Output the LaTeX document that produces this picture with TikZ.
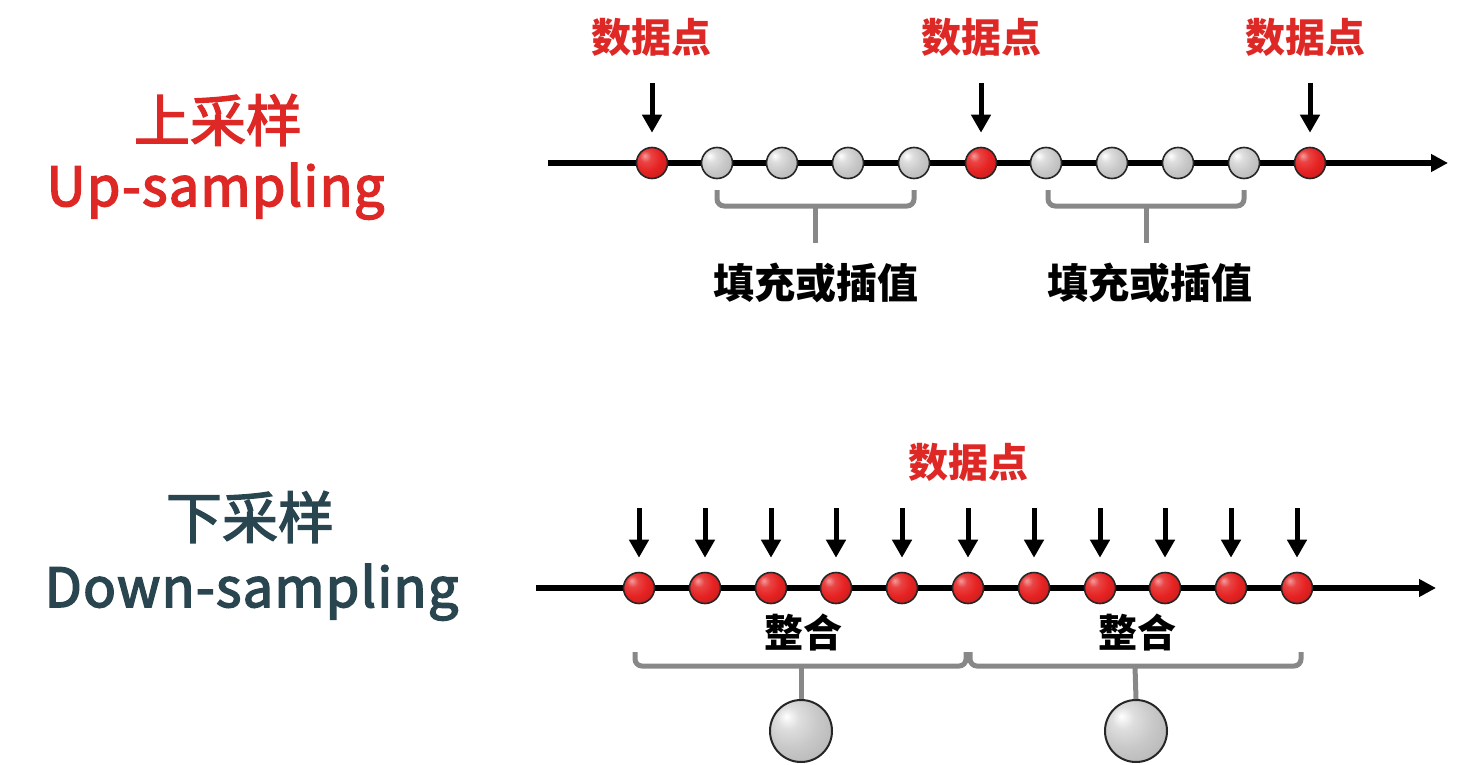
\documentclass[tikz,border=0pt]{standalone}
\usepackage{fontspec}
\setmainfont{Noto Sans CJK SC}
\newfontfamily\titlecnfont{Noto Sans CJK SC}[FakeBold=2.5]
\newfontfamily\titleenfont{Noto Sans CJK SC}[FakeBold=3, LetterSpace=2.5]
\usetikzlibrary{arrows.meta}
\definecolor{upred}{RGB}{221,40,38}
\definecolor{dslate}{RGB}{41,69,79}
\definecolor{brk}{RGB}{136,136,136}
\definecolor{ballred}{RGB}{230,34,34}
\definecolor{ballgray}{RGB}{200,200,200}
\pgfdeclareradialshading{redsphere}{\pgfqpoint{-12bp}{12bp}}{%
  color(0bp)=(white!55!ballred); color(9bp)=(ballred!85!white);
  color(22bp)=(ballred); color(42bp)=(ballred!80!black);
  color(58bp)=(ballred!45!black); color(70bp)=(ballred!45!black)}
\pgfdeclareradialshading{graysphere}{\pgfqpoint{-12bp}{12bp}}{%
  color(0bp)=(white); color(9bp)=(ballgray!60!white);
  color(22bp)=(ballgray); color(42bp)=(ballgray!88!black);
  color(58bp)=(ballgray!55!black); color(70bp)=(ballgray!55!black)}
\tikzset{
  redball/.style={circle, draw=black!85, line width=1.6pt, minimum size=31pt, inner sep=0pt, shading=redsphere},
  grayball/.style={circle, draw=black!85, line width=1.6pt, minimum size=31pt, inner sep=0pt, shading=graysphere},
  bigball/.style={circle, draw=black!85, line width=2pt, minimum size=62pt, inner sep=0pt, shading=graysphere},
  axisline/.style={line width=5.5pt, -{Triangle[length=17pt,width=17pt]}},
  pointer/.style={line width=5pt, -{Triangle[length=18pt,width=19pt]}, shorten >=14pt},
  bracketline/.style={draw=brk, line width=5pt, rounded corners=7pt},
  stemline/.style={draw=brk, line width=5pt},
  datalabel/.style={text=upred, font=\bfseries\fontsize{40}{42}\selectfont, inner sep=0pt},
  blacklabel/.style={text=black, font=\bfseries\fontsize{41}{43}\selectfont, inner sep=0pt},
  mergelabel/.style={text=black, font=\bfseries\fontsize{39}{41}\selectfont, inner sep=0pt},
  titlecn/.style={font=\titlecnfont\fontsize{56}{58}\selectfont, inner sep=0pt},
  titleen/.style={font=\titleenfont\fontsize{54}{58}\selectfont, inner sep=0pt, anchor=base}
}
\begin{document}
\begin{tikzpicture}[x=1pt,y=-1pt]
\useasboundingbox (0,0) rectangle (1467,765);

% ---------- titles ----------
\node[titlecn, text=upred] (upcn) at (218,120) {上采样};
\node[titleen, text=upred] (upen) at (215.5,206) {Up-sampling};
\node[titlecn, text=dslate] (dncn) at (250,517) {下采样};
\node[titleen, text=dslate] (dnen) at (251.5,607) {Down-sampling};

% ---------- up-sampling ----------
\coordinate (ua0) at (548,163);
\coordinate (ua1) at (1448,163);
\draw[axisline] (ua0) -- (ua1);

\node[redball]  (u1)  at (652,163) {};
\node[grayball] (u2)  at (717,163) {};
\node[grayball] (u3)  at (782,163) {};
\node[grayball] (u4)  at (848,163) {};
\node[grayball] (u5)  at (914,163) {};
\node[redball]  (u6)  at (981,163) {};
\node[grayball] (u7)  at (1046,163) {};
\node[grayball] (u8)  at (1112,163) {};
\node[grayball] (u9)  at (1178,163) {};
\node[grayball] (u10) at (1244,163) {};
\node[redball]  (u11) at (1310,163) {};

\node[datalabel] (dl1) at (651.5,37) {数据点};
\node[datalabel] (dl2) at (981,37) {数据点};
\node[datalabel] (dl3) at (1305,37) {数据点};

\coordinate (pa1) at (652,83);
\coordinate (pa2) at (981,83);
\coordinate (pa3) at (1310,83);
\draw[pointer] (pa1) -- (u1.north);
\draw[pointer] (pa2) -- (u6.north);
\draw[pointer] (pa3) -- (u11.north);

% brackets
\coordinate (b1l) at (717,190);
\coordinate (b1m) at (815,206);
\coordinate (b1r) at (914,190);
\coordinate (b1s) at (815,243);
\draw[bracketline] (b1l) |- (b1m) -| (b1r);
\draw[stemline] (b1m) -- (b1s);
\coordinate (b2l) at (1048,190);
\coordinate (b2m) at (1146,206);
\coordinate (b2r) at (1244,190);
\coordinate (b2s) at (1146,243);
\draw[bracketline] (b2l) |- (b2m) -| (b2r);
\draw[stemline] (b2m) -- (b2s);

\node[blacklabel] (fill1) at (815.5,283) {填充或插值};
\node[blacklabel] (fill2) at (1150,283) {填充或插值};

% ---------- down-sampling ----------
\coordinate (da0) at (536,588);
\coordinate (da1) at (1436,588);
\draw[axisline] (da0) -- (da1);

\foreach \i/\x in {1/639,2/705,3/771,4/836,5/902,6/968,7/1034,8/1100,9/1165,10/1231,11/1297}{
  \node[redball] (d\i) at (\x,588) {};
  \coordinate (dp\i) at (\x,508);
  \draw[pointer] (dp\i) -- (d\i.north);
}

\node[datalabel] (dl4) at (968,462) {数据点};

\node[mergelabel] (merge1) at (803,633) {整合};
\node[mergelabel] (merge2) at (1137,633) {整合};

\coordinate (c1l) at (635,652);
\coordinate (c1m) at (801,666);
\coordinate (c1r) at (966,652);
\coordinate (c2l) at (970,652);
\coordinate (c2m) at (1135,666);
\coordinate (c2r) at (1301,652);
\draw[bracketline] (c1l) |- (c1m) -| (c1r);
\draw[bracketline] (c2l) |- (c2m) -| (c2r);

\node[bigball] (g1) at (801,731) {};
\node[bigball] (g2) at (1136,731) {};
\draw[stemline] (c1m) -- (g1.north);
\draw[stemline] (c2m) -- (g2.north);
\end{tikzpicture}
\end{document}
